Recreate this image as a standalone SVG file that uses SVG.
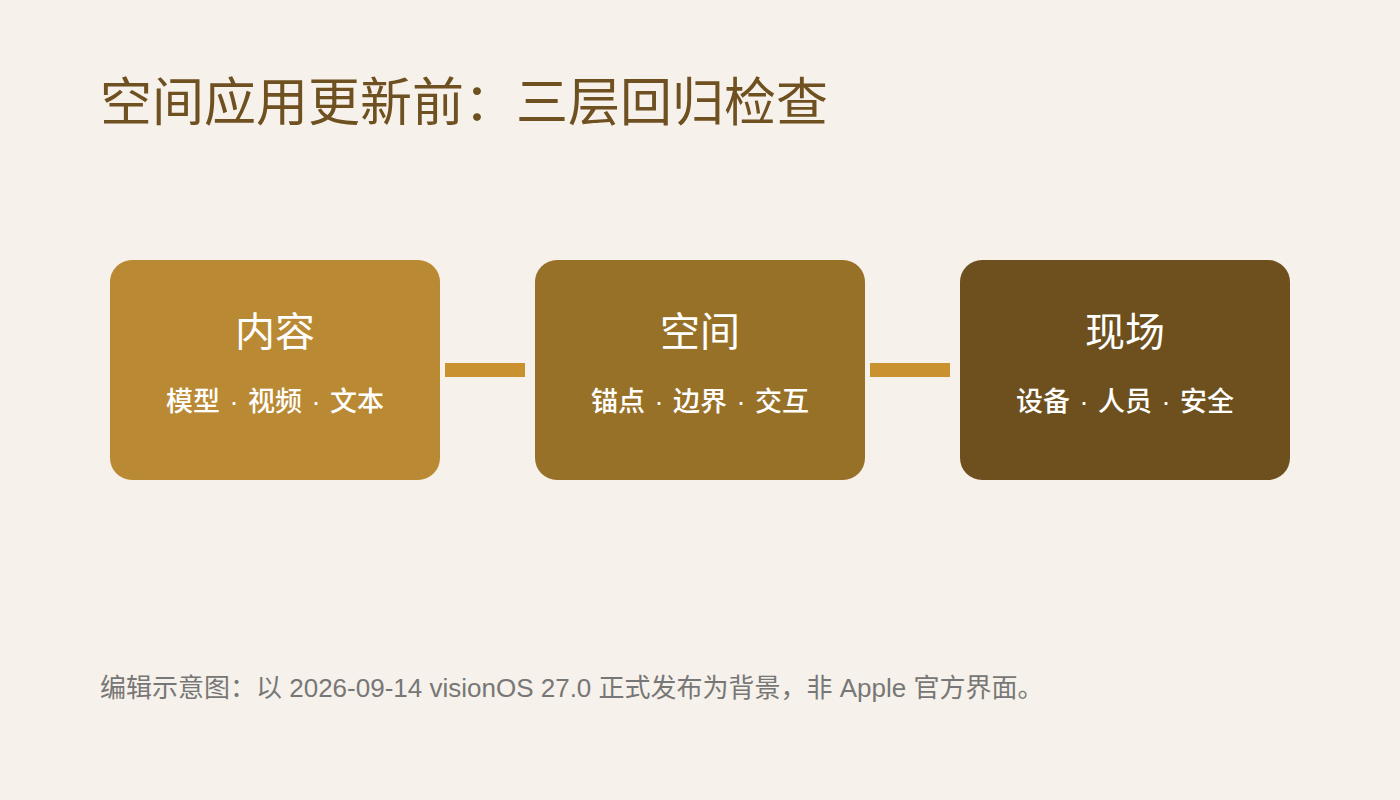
<svg xmlns="http://www.w3.org/2000/svg" width="1400" height="800" viewBox="0 0 1400 800">
<style>
.t{font-family:"Liberation Sans","Noto Sans CJK SC",sans-serif}
.title{font-size:52px;fill:#6f5020;font-weight:400}
.nt{font-size:40px;fill:#ffffff;text-anchor:middle;font-weight:400}
.ns{font-size:27px;fill:#ffffff;text-anchor:middle;font-weight:500;word-spacing:2px}
.foot{font-size:26px;fill:#777777}
.conn{fill:#c9922f}
</style>
<rect width="1400" height="800" fill="#f6f1ea"/>
<text class="t title" x="100" y="121">空间应用更新前：三层回归检查</text>
<g id="connectors">
<rect class="conn" x="445" y="363" width="80" height="14"/>
<rect class="conn" x="870" y="363" width="80" height="14"/>
</g>
<g id="node-content">
<rect x="110" y="260" width="330" height="220" rx="22" fill="#ba8934"/>
<text class="t nt" x="275" y="346">内容</text>
<text class="t ns" x="275" y="411">模型 · 视频 · 文本</text>
</g>
<g id="node-space">
<rect x="535" y="260" width="330" height="220" rx="22" fill="#987128"/>
<text class="t nt" x="700" y="346">空间</text>
<text class="t ns" x="700" y="411">锚点 · 边界 · 交互</text>
</g>
<g id="node-site">
<rect x="960" y="260" width="330" height="220" rx="22" fill="#6e501e"/>
<text class="t nt" x="1125" y="346">现场</text>
<text class="t ns" x="1125" y="411">设备 · 人员 · 安全</text>
</g>
<text class="t foot" x="100" y="697">编辑示意图：以 2026-09-14 visionOS 27.0 正式发布为背景，非 Apple 官方界面。</text>
</svg>
